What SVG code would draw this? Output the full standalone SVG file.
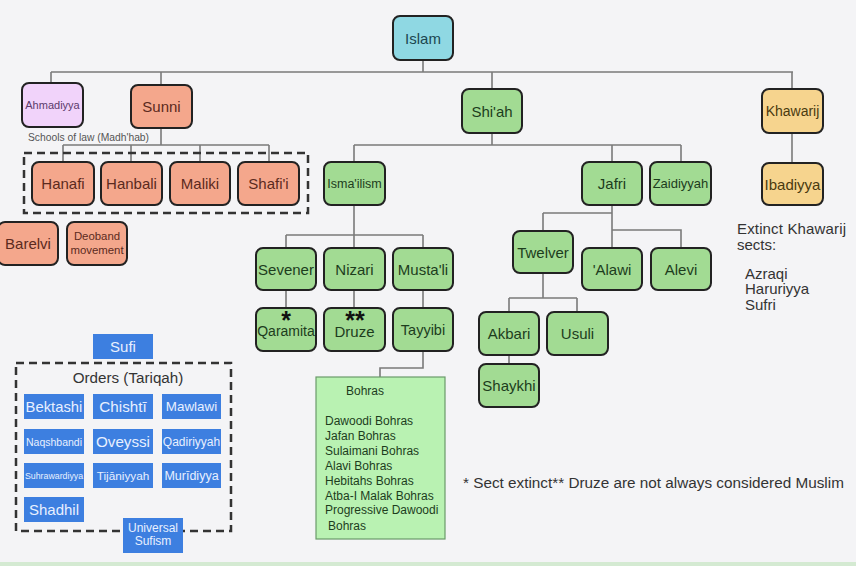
<svg xmlns="http://www.w3.org/2000/svg" width="856" height="566" viewBox="0 0 856 566">
<style>
text{font-family:"Liberation Sans",Arial,sans-serif;}
.n rect{stroke:#222;stroke-width:2;}
.n text{text-anchor:middle;dominant-baseline:central;font-size:15px;}
.isl rect{fill:#8fd8e3;} .isl text{fill:#1c4650;}
.sun rect{fill:#f4a78c;} .sun text{fill:#5b2a20;}
.ahm rect{fill:#f1d3fa;} .ahm text{fill:#5b3b6b;}
.shi rect{fill:#a2db93;} .shi text{fill:#1d3d1d;}
.kha rect{fill:#f6d48e;} .kha text{fill:#4a3a10;}
.suf rect{fill:#3d7fe0;stroke:none;} .suf text{fill:#e8f0ff;text-anchor:middle;dominant-baseline:central;}
.c{fill:none;stroke:#7a7a7a;stroke-width:1.6;}
.dash{fill:none;stroke:#333;stroke-width:2.5;stroke-dasharray:8 5;}
.plain{fill:#333;}
.n text.star{font-size:25px;font-weight:bold;fill:#111;text-anchor:middle;dominant-baseline:auto;}
</style>
<rect x="0" y="0" width="856" height="566" fill="#f4f4f6"/>
<rect x="0" y="562" width="856" height="4" fill="#d4ead2"/>

<g id="connectors">
<path class="c" d="M423,60V72M51,72H793M51,72V83M161,72V85M492,72V89M792,72V89"/>
<path class="c" d="M161,128V145M63,145H269M63,145V162M131,145V162M200,145V162M269,145V162"/>
<path class="c" d="M492,133V145M354,145H681M354,145V162M612,145V162M681,145V162"/>
<path class="c" d="M792,133V163"/>
<path class="c" d="M354,205V235M286,235H423M286,235V248M354,235V248M423,235V248"/>
<path class="c" d="M286,290V308M354,290V308M423,290V308"/>
<path class="c" d="M423,351V368H380V377"/>
<path class="c" d="M612,205V248M543,213H612M543,213V231M612,230H681V248"/>
<path class="c" d="M543,273V298M509,298H577M509,298V312M577,298V312M509,355V364"/>
</g>

<g id="islam" class="n isl"><rect x="393" y="16" width="60" height="44" rx="7"/><text x="423" y="38">Islam</text></g>
<g id="ahmadiyya" class="n ahm"><rect x="22" y="83" width="61" height="44" rx="7"/><text x="52.5" y="105" style="font-size:11px">Ahmadiyya</text></g>
<g id="sunni" class="n sun"><rect x="131" y="85" width="61" height="43" rx="7"/><text x="161.5" y="106.5">Sunni</text></g>
<g id="shiah" class="n shi"><rect x="462" y="89" width="60" height="44" rx="7"/><text x="492" y="111">Shi'ah</text></g>
<g id="khawarij" class="n kha"><rect x="762" y="89" width="61" height="44" rx="7"/><text x="792.5" y="111" style="font-size:14px">Khawarij</text></g>

<text class="plain" x="28" y="141" style="font-size:10.3px;fill:#555">Schools of law (Madh'hab)</text>
<rect class="dash" x="24" y="153" width="284" height="60"/>
<g id="hanafi" class="n sun"><rect x="32" y="162" width="62" height="43" rx="7"/><text x="63" y="183.5">Hanafi</text></g>
<g id="hanbali" class="n sun"><rect x="101" y="162" width="61" height="43" rx="7"/><text x="131.5" y="183.5">Hanbali</text></g>
<g id="maliki" class="n sun"><rect x="170" y="162" width="60" height="43" rx="7"/><text x="200" y="183.5">Maliki</text></g>
<g id="shafii" class="n sun"><rect x="238" y="162" width="61" height="43" rx="7"/><text x="268.5" y="183.5">Shafi'i</text></g>
<g id="barelvi" class="n sun"><rect x="-2" y="222" width="60" height="43" rx="7"/><text x="28" y="243.5">Barelvi</text></g>
<g id="deoband" class="n sun"><rect x="67" y="222" width="60" height="43" rx="7"/><text x="97" y="236" style="font-size:11.4px">Deoband</text><text x="97" y="250" style="font-size:11.4px">movement</text></g>

<g id="ismailism" class="n shi"><rect x="324" y="162" width="61" height="43" rx="7"/><text x="354.5" y="183.5" style="font-size:12.5px">Isma'ilism</text></g>
<g id="jafri" class="n shi"><rect x="582" y="162" width="60" height="43" rx="7"/><text x="612" y="183.5">Jafri</text></g>
<g id="zaidiyyah" class="n shi"><rect x="650" y="162" width="61" height="43" rx="7"/><text x="680.5" y="183.5" style="font-size:13px">Zaidiyyah</text></g>
<g id="ibadiyya" class="n kha"><rect x="762" y="163" width="61" height="42" rx="7"/><text x="792.5" y="184">Ibadiyya</text></g>

<g id="extinct-khawarij" style="font-size:15px">
<text class="plain" x="737" y="234" textLength="109">Extinct Khawarij</text>
<text class="plain" x="737" y="250">sects:</text>
<text class="plain" x="745" y="278.5">Azraqi</text>
<text class="plain" x="745" y="294">Haruriyya</text>
<text class="plain" x="745" y="309.5">Sufri</text>
</g>

<g id="sevener" class="n shi"><rect x="256" y="248" width="60" height="42" rx="7"/><text x="286" y="269">Sevener</text></g>
<g id="nizari" class="n shi"><rect x="324" y="248" width="61" height="42" rx="7"/><text x="354.5" y="269">Nizari</text></g>
<g id="mustali" class="n shi"><rect x="393" y="248" width="60" height="42" rx="7"/><text x="423" y="269">Musta'li</text></g>
<g id="qaramita" class="n shi"><rect x="256" y="308" width="60" height="43" rx="7"/><text x="286" y="331" style="font-size:14px">Qaramita</text><text class="star" x="286" y="329">*</text></g>
<g id="druze" class="n shi"><rect x="324" y="308" width="61" height="43" rx="7"/><text x="354.5" y="331">Druze</text><text class="star" x="355" y="329">**</text></g>
<g id="tayyibi" class="n shi"><rect x="393" y="308" width="60" height="43" rx="7"/><text x="423" y="329.5" style="font-size:14.5px">Tayyibi</text></g>

<g id="bohras">
<rect x="316" y="377" width="129" height="162" fill="#b9f2b2" stroke="#6a9a6a" stroke-width="1.2"/>
<g style="font-size:12px;fill:#1d3d1d">
<text x="346" y="395">Bohras</text>
<text x="325" y="425">Dawoodi Bohras</text>
<text x="325" y="440">Jafan Bohras</text>
<text x="325" y="455">Sulaimani Bohras</text>
<text x="325" y="470">Alavi Bohras</text>
<text x="325" y="485">Hebitahs Bohras</text>
<text x="325" y="500">Atba-I Malak Bohras</text>
<text x="325" y="514">Progressive Dawoodi</text>
<text x="328" y="530">Bohras</text>
</g>
</g>

<g id="twelver" class="n shi"><rect x="513" y="231" width="60" height="42" rx="7"/><text x="543" y="252">Twelver</text></g>
<g id="alawi" class="n shi"><rect x="582" y="248" width="60" height="42" rx="7"/><text x="612" y="269">'Alawi</text></g>
<g id="alevi" class="n shi"><rect x="651" y="248" width="60" height="42" rx="7"/><text x="681" y="269">Alevi</text></g>
<g id="akbari" class="n shi"><rect x="479" y="312" width="60" height="43" rx="7"/><text x="509" y="333.5">Akbari</text></g>
<g id="usuli" class="n shi"><rect x="547" y="312" width="61" height="43" rx="7"/><text x="577.5" y="333.5">Usuli</text></g>
<g id="shaykhi" class="n shi"><rect x="479" y="364" width="60" height="43" rx="7"/><text x="509" y="385.5">Shaykhi</text></g>

<text class="plain" x="463" y="488" style="font-size:15.3px">* Sect extinct** Druze are not always considered Muslim</text>

<g id="sufi" class="suf"><rect x="93" y="334" width="60" height="25"/><text x="123" y="346.5" style="font-size:15px">Sufi</text></g>
<rect class="dash" x="16" y="363" width="215" height="168"/>
<text x="128" y="377" style="font-size:15.2px;fill:#333;text-anchor:middle;dominant-baseline:central">Orders (Tariqah)</text>
<g id="bektashi" class="suf"><rect x="24" y="394" width="60" height="25"/><text x="54" y="406.5" style="font-size:14.8px">Bektashi</text></g>
<g id="chishti" class="suf"><rect x="93" y="394" width="60" height="25"/><text x="123" y="406.5" style="font-size:15.2px">Chishtī</text></g>
<g id="mawlawi" class="suf"><rect x="162" y="394" width="59" height="25"/><text x="191.5" y="406.5" style="font-size:13.4px">Mawlawi</text></g>
<g id="naqshbandi" class="suf"><rect x="24" y="429" width="60" height="25"/><text x="54" y="441.5" style="font-size:10.5px">Naqshbandi</text></g>
<g id="oveyssi" class="suf"><rect x="93" y="429" width="60" height="25"/><text x="123" y="441.5" style="font-size:15.2px">Oveyssi</text></g>
<g id="qadiriyyah" class="suf"><rect x="162" y="429" width="59" height="25"/><text x="191.5" y="441.5" style="font-size:12px">Qadiriyyah</text></g>
<g id="suhrawardiyya" class="suf"><rect x="24" y="463" width="60" height="25"/><text x="54" y="475.5" style="font-size:8.8px">Suhrawardiyya</text></g>
<g id="tijaniyyah" class="suf"><rect x="93" y="463" width="60" height="25"/><text x="123" y="475.5" style="font-size:11.8px">Tijāniyyah</text></g>
<g id="muridiyya" class="suf"><rect x="162" y="463" width="59" height="25"/><text x="191.5" y="475.5" style="font-size:12.5px">Murīdiyya</text></g>
<g id="shadhil" class="suf"><rect x="24" y="497" width="60" height="25"/><text x="54" y="509.5" style="font-size:15px">Shadhil</text></g>
<g id="universal-sufism" class="suf"><rect x="123" y="518" width="60" height="35"/><text x="153" y="528" style="font-size:12px">Universal</text><text x="153" y="541" style="font-size:12px">Sufism</text></g>
</svg>
